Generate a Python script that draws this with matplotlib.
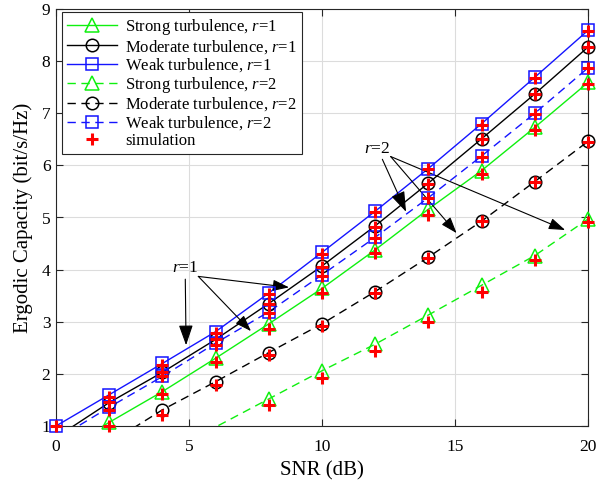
import matplotlib
matplotlib.use('Agg')
import matplotlib.pyplot as plt
from matplotlib.lines import Line2D
import numpy as np

plt.rcParams['font.family'] = 'Liberation Serif'
plt.rcParams['mathtext.fontset'] = 'custom'
plt.rcParams['mathtext.rm'] = 'Liberation Serif'
plt.rcParams['mathtext.it'] = 'Liberation Serif:italic'

# SNR grid (dB)
snr = np.array([0, 2, 4, 6, 8, 10, 12, 14, 16, 18, 20])

# analytic curves
strong_r1 = [0.45, 1.07, 1.66, 2.30, 2.96, 3.64, 4.38, 5.16, 5.90, 6.73, 7.59]
moderate_r1 = [0.78, 1.45, 2.03, 2.66, 3.35, 4.07, 4.84, 5.66, 6.51, 7.37, 8.27]
weak_r1 = [1.00, 1.60, 2.20, 2.81, 3.55, 4.33, 5.12, 5.94, 6.80, 7.69, 8.59]
strong_r2 = [0.30, 0.55, 0.75, 0.98, 1.52, 2.06, 2.57, 3.13, 3.70, 4.27, 4.97]
moderate_r2 = [0.40, 0.67, 1.31, 1.85, 2.41, 2.96, 3.58, 4.24, 4.93, 5.69, 6.46]
weak_r2 = [0.74, 1.36, 1.95, 2.59, 3.19, 3.90, 4.62, 5.38, 6.18, 7.00, 7.87]

# simulation points (nan = outside the plot)
sim_strong_r1 = [np.nan, 1.00, 1.61, 2.23, 2.87, 3.56, 4.31, 5.05, 5.84, 6.67, 7.56]
sim_moderate_r1 = [np.nan, 1.47, 2.04, 2.66, 3.35, 4.05, 4.82, 5.65, 6.50, 7.37, 8.27]
sim_weak_r1 = [1.00, 1.56, 2.17, 2.78, 3.53, 4.30, 5.10, 5.93, 6.78, 7.67, 8.58]
sim_strong_r2 = [np.nan, np.nan, np.nan, np.nan, 1.40, 1.92, 2.44, 3.00, 3.58, 4.19, 4.92]
sim_moderate_r2 = [np.nan, np.nan, 1.21, 1.78, 2.37, 2.92, 3.55, 4.23, 4.93, 5.68, 6.45]
sim_weak_r2 = [np.nan, 1.31, 1.95, 2.55, 3.16, 3.88, 4.60, 5.37, 6.17, 6.99, 7.86]

labels = ['Strong turbulence, $r$=1', 'Moderate turbulence, $r$=1', 'Weak turbulence, $r$=1',
          'Strong turbulence, $r$=2', 'Moderate turbulence, $r$=2', 'Weak turbulence, $r$=2']

green = '#0ff00f'
blue = '#1414ff'
series = [
    (strong_r1, green, '-', '^'),
    (moderate_r1, 'black', '-', 'o'),
    (weak_r1, blue, '-', 's'),
    (strong_r2, green, '--', '^'),
    (moderate_r2, 'black', '--', 'o'),
    (weak_r2, blue, '--', 's'),
]
sims = [sim_strong_r1, sim_moderate_r1, sim_weak_r1, sim_strong_r2, sim_moderate_r2, sim_weak_r2]

fig = plt.figure(figsize=(6.10, 4.86), dpi=100)
ax = fig.add_axes([56 / 610, 60 / 486, 532 / 610, 417 / 486])

ms = {'^': 10, 'o': 9, 's': 8.5}
handles = []
for (vals, col, ls, mk), lab in zip(series, labels):
    vals = np.array(vals)
    dash = (6, 4) if ls == '--' else None
    line, = ax.plot(snr, vals, color=col, lw=1.0, zorder=3)
    if dash:
        line.set_dashes(dash)
    keep = vals >= 1.0
    ax.plot(snr[keep], vals[keep], ls='none', marker=mk, ms=ms[mk], mfc='none',
            mec=col, mew=1.1, clip_on=False, zorder=4)
    h = Line2D([], [], color=col, lw=1.0, marker=mk, ms=ms[mk], mfc='none', mec=col, mew=1.1)
    if dash:
        h.set_dashes(dash)
    handles.append(h)

for s in sims:
    ax.plot(snr, s, ls='none', marker='+', ms=8, mew=2.2, color='#ff0000',
            clip_on=False, zorder=5)
handles.append(Line2D([], [], ls='none', marker='+', ms=8, mew=2.2, color='#ff0000'))
labels.append('simulation')

ax.set_xlim(0, 20)
ax.set_ylim(1, 9)
ax.set_xticks([0, 5, 10, 15, 20])
ax.set_yticks(range(1, 10))
ax.grid(True, color='#dcdcdc', lw=0.8)
ax.set_axisbelow(True)
ax.tick_params(direction='in', top=True, right=True, length=5, labelsize=12.5,
               color='#262626')
ax.tick_params(axis='x', pad=9)
ax.tick_params(axis='y', pad=4)
for sp in ax.spines.values():
    sp.set_color('#262626')
    sp.set_linewidth(0.8)
ax.set_xlabel('SNR (dB)', fontsize=15, labelpad=5)
ax.set_ylabel('Ergodic Capacity (bit/s/Hz)', fontsize=15, labelpad=6)

leg = ax.legend(handles, labels, loc='upper left', bbox_to_anchor=(6 / 532, 1 - 3 / 417),
                borderaxespad=0, fontsize=12, handlelength=3.0, handletextpad=0.5,
                labelspacing=0.05, borderpad=0.3, fancybox=False, framealpha=1)
leg.get_frame().set_edgecolor('#262626')
leg.get_frame().set_linewidth(0.8)

arrow = dict(arrowstyle='-|>,head_length=1.0,head_width=0.35', color='black', lw=0.8,
             shrinkA=0, shrinkB=0)

# r=1 annotation
ax.annotate('$r$=1', xy=(4.89, 2.55), xytext=(5.35, 3.87), fontsize=12.5,
            ha='right', va='bottom', arrowprops=arrow)
ax.annotate('', xy=(7.33, 2.82), xytext=(5.35, 3.87), arrowprops=arrow)
ax.annotate('', xy=(8.76, 3.66), xytext=(5.35, 3.87), arrowprops=arrow)

# r=2 annotation
ax.annotate('$r$=2', xy=(13.16, 5.11), xytext=(12.58, 6.17), fontsize=12.5,
            ha='right', va='bottom', arrowprops=arrow)
ax.annotate('', xy=(15.06, 4.70), xytext=(12.58, 6.17), arrowprops=arrow)
ax.annotate('', xy=(19.14, 4.76), xytext=(12.58, 6.17), arrowprops=arrow)

fig.savefig('out.png', dpi=100)
